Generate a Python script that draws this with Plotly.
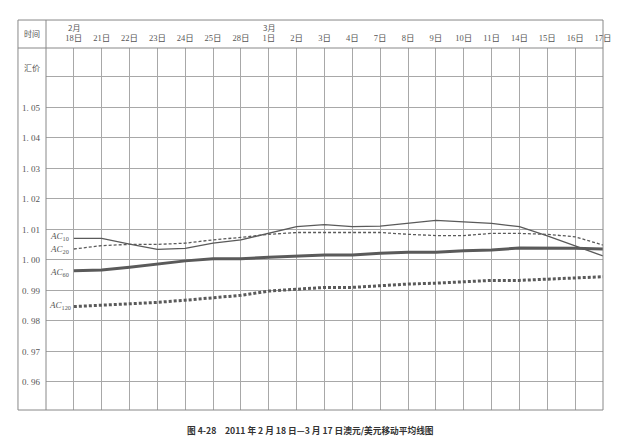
import plotly.graph_objects as go

dates = ["18日", "21日", "22日", "23日", "24日", "25日", "28日", "1日", "2日", "3日",
         "4日", "7日", "8日", "9日", "10日", "11日", "14日", "15日", "16日", "17日"]
months = {"2月": 0, "3月": 7}

ac10 = [1.0071, 1.0071, 1.0052, 1.0035, 1.0038, 1.0055, 1.0066, 1.0087, 1.0109, 1.0116,
        1.0109, 1.0111, 1.0120, 1.0130, 1.0125, 1.0120, 1.0109, 1.0079, 1.0046, 1.0013]
ac20 = [1.0036, 1.0047, 1.0051, 1.0051, 1.0055, 1.0066, 1.0074, 1.0084, 1.0090, 1.0090,
        1.0090, 1.0090, 1.0084, 1.0080, 1.0080, 1.0087, 1.0087, 1.0084, 1.0076, 1.0049]
ac60 = [0.9965, 0.9967, 0.9976, 0.9987, 0.9997, 1.0004, 1.0004, 1.0009, 1.0012, 1.0016,
        1.0016, 1.0022, 1.0025, 1.0025, 1.0030, 1.0033, 1.0039, 1.0039, 1.0038, 1.0036]
ac120 = [0.9847, 0.9851, 0.9857, 0.9861, 0.9868, 0.9876, 0.9884, 0.9898, 0.9905, 0.9910,
         0.9910, 0.9916, 0.9921, 0.9924, 0.9928, 0.9933, 0.9933, 0.9937, 0.9940, 0.9945]

y_ticks = [0.96, 0.97, 0.98, 0.99, 1.00, 1.01, 1.02, 1.03, 1.04, 1.05, 1.06]
y_ticktext = ["0. 96", "0. 97", "0. 98", "0. 99", "1. 00", "1. 01", "1. 02", "1. 03",
              "1. 04", "1. 05", ""]

series = [
    ("AC10", ac10, dict(color="#5a5a5a", width=1.3, dash="solid")),
    ("AC20", ac20, dict(color="#5a5a5a", width=1.3, dash="3px,2px")),
    ("AC60", ac60, dict(color="#5a5a5a", width=3, dash="solid")),
    ("AC120", ac120, dict(color="#5a5a5a", width=3, dash="3px,2px")),
]
label_y = {"AC10": 1.0076, "AC20": 1.0033, "AC60": 0.9960, "AC120": 0.9850}

x = list(range(len(dates)))
fig = go.Figure()
for name, vals, ln in series:
    fig.add_trace(go.Scatter(x=x, y=vals, mode="lines", name=name, line=ln,
                             showlegend=False, hoverinfo="skip"))

serif = "'Liberation Serif', 'Noto Sans CJK SC', serif"
cjk = "'Noto Sans CJK SC', sans-serif"
txt = "#555555"

def ann(xv, yv, text, xref, yref, font, xanchor="center"):
    return dict(x=xv, y=yv, xref=xref, yref=yref, text=text, showarrow=False,
                xanchor=xanchor, yanchor="middle", font=font)

annotations = []
for name, _, _ in series:
    annotations.append(ann(-0.5, label_y[name], "<i>AC</i><sub>%s</sub>" % name[2:], "x", "y",
                           dict(family=serif, size=9, color=txt)))
for m, idx in months.items():
    annotations.append(ann(idx, 1.058, m, "x", "paper", dict(family=cjk, size=8, color=txt)))
annotations.append(ann(-0.0251, 1.0387, "时间", "paper", "paper", dict(family=cjk, size=8, color=txt)))
annotations.append(ann(-0.0251, 0.9475, "汇价", "paper", "paper", dict(family=cjk, size=8, color=txt)))
annotations.append(ann(0.474, -0.058,
                       "<b>图 4-28　2011 年 2 月 18 日—3 月 17 日澳元/美元移动平均线图</b>",
                       "paper", "paper", dict(family=cjk, size=8.7, color="#333333")))

shapes = [
    dict(type="rect", xref="paper", yref="paper", x0=-0.0503, x1=1, y0=0, y1=1.0773,
         line=dict(color="#888888", width=1)),
    dict(type="line", xref="paper", yref="paper", x0=-0.0503, x1=1, y0=1, y1=1,
         line=dict(color="#888888", width=1)),
    dict(type="line", xref="paper", yref="paper", x0=0, x1=0, y0=0, y1=1.0773,
         line=dict(color="#888888", width=1)),
]

# page body has an 8px default margin, so the figure is shrunk by 8px
fig.update_layout(
    width=611, height=438,
    margin=dict(l=38, r=16, t=40, b=36, autoexpand=False),
    paper_bgcolor="white", plot_bgcolor="white",
    annotations=annotations, shapes=shapes,
    xaxis=dict(range=[-1, 19], side="top", tickvals=x, ticktext=dates,
               showgrid=True, gridcolor="#a8a8a8", gridwidth=1, zeroline=False,
               ticks="", ticklabelstandoff=4, automargin=False,
               tickfont=dict(family=serif, size=8.5, color=txt),
               showline=False, fixedrange=True),
    yaxis=dict(range=[0.9508, 1.0695], tickvals=y_ticks, ticktext=y_ticktext,
               showgrid=True, gridcolor="#a8a8a8", gridwidth=1, zeroline=False,
               ticks="", ticklabelstandoff=5, automargin=False,
               tickfont=dict(family=serif, size=9, color=txt),
               showline=False, fixedrange=True),
)

fig.write_html("out.html")
